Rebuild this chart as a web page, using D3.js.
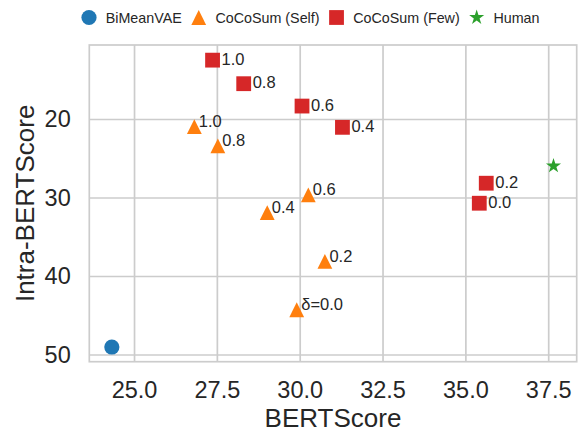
<!DOCTYPE html>
<html>
<head>
<meta charset="utf-8">
<script src="https://cdn.jsdelivr.net/npm/d3@7"></script>
<style>
  body { margin: 0; background: #fff; }
  text { font-family: "Liberation Sans", Arial, sans-serif; fill: #262626; }
</style>
</head>
<body>
<svg id="chart" width="578" height="432"></svg>
<script>
// values
const bimeanX = [24.33];
const bimeanY = [49.05];

const selfLabels = ["δ=0.0", "0.2", "0.4", "0.6", "0.8", "1.0"];
const selfX = [29.91, 30.76, 29.02, 30.26, 27.53, 26.82];
const selfY = [44.3, 38.15, 31.92, 29.67, 23.43, 20.98];

const fewLabels = ["0.0", "0.2", "0.4", "0.6", "0.8", "1.0"];
const fewX = [35.42, 35.63, 31.29, 30.07, 28.31, 27.37];
const fewY = [30.73, 28.18, 21.06, 18.35, 15.5, 12.5];

const humanX = [37.66];
const humanY = [25.98];

const xTicks = [25, 27.5, 30, 32.5, 35, 37.5];
const yTicks = [20, 30, 40, 50];

const legendNames = ["BiMeanVAE", "CoCoSum (Self)", "CoCoSum (Few)", "Human"];
const legendShapes = ["circle", "triangle", "square", "star"];
const colors = ["#1f77b4", "#ff7f0e", "#d62728", "#2ca02c"];

const svg = d3.select("#chart");
const margin = {top: 45, right: 1.3, bottom: 70.3, left: 89.3};
const width = 578 - margin.left - margin.right;
const height = 432 - margin.top - margin.bottom;
const g = svg.append("g").attr("transform", "translate(" + margin.left + "," + margin.top + ")");

const x = d3.scaleLinear().domain([23.65, 38.36]).range([0, width]);
const y = d3.scaleLinear().domain([10.57, 50.92]).range([0, height]); // inverted axis

function markerPath(shape) {
  if (shape == "circle") return d3.arc()({innerRadius: 0, outerRadius: 7.6, startAngle: 0, endAngle: 2 * Math.PI});
  if (shape == "square") return "M-7.4,-7.4H7.4V7.4H-7.4Z";
  if (shape == "triangle") return "M0,-7.4L-7.4,7.4L7.4,7.4Z";
  // five point star
  let p = [];
  for (let i = 0; i < 10; i++) {
    const r = i % 2 ? 7.9 * 0.382 : 7.9;
    const a = Math.PI * i / 5;
    p.push([r * Math.sin(a), -r * Math.cos(a)]);
  }
  return "M" + p.join("L") + "Z";
}

// grid
g.append("g")
  .attr("transform", "translate(0," + height + ")")
  .call(d3.axisBottom(x).tickValues(xTicks).tickSize(-height).tickFormat(d3.format(".1f")).tickPadding(19.5))
  .call(a => a.select(".domain").remove())
  .call(a => a.selectAll("line").attr("stroke", "#cccccc").attr("stroke-width", 1.7))
  .call(a => a.selectAll("text").attr("font-size", "23.5px").attr("fill", "#262626")
    .style("font-family", "'Liberation Sans', Arial, sans-serif"));

g.append("g")
  .call(d3.axisLeft(y).tickValues(yTicks).tickSize(-width).tickPadding(18.6))
  .call(a => a.select(".domain").remove())
  .call(a => a.selectAll("line").attr("stroke", "#cccccc").attr("stroke-width", 1.7))
  .call(a => a.selectAll("text").attr("font-size", "23.5px").attr("fill", "#262626")
    .style("font-family", "'Liberation Sans', Arial, sans-serif"));

g.append("rect")
  .attr("width", width).attr("height", height)
  .attr("fill", "none").attr("stroke", "#cccccc").attr("stroke-width", 1.7);

// points
function scatter(xs, ys, shape, color) {
  g.append("g").selectAll("path")
    .data(xs.map((v, i) => [v, ys[i]]))
    .join("path")
    .attr("transform", d => "translate(" + x(d[0]) + "," + y(d[1]) + ")")
    .attr("d", markerPath(shape))
    .attr("fill", color);
}
scatter(bimeanX, bimeanY, "circle", colors[0]);
scatter(selfX, selfY, "triangle", colors[1]);
scatter(fewX, fewY, "square", colors[2]);
scatter(humanX, humanY, "star", colors[3]);

// point labels
function labels(xs, ys, texts, dx, dy) {
  g.append("g").selectAll("text")
    .data(texts)
    .join("text")
    .attr("x", (d, i) => x(xs[i]) + dx)
    .attr("y", (d, i) => y(ys[i]) + dy)
    .attr("font-size", "16.5px")
    .text(d => d);
}
labels(selfX, selfY, selfLabels, 4.5, 0.5);
labels(fewX, fewY, fewLabels, 9, 4.8);

// axis titles
svg.append("text")
  .attr("x", margin.left + width / 2)
  .attr("y", 427)
  .attr("text-anchor", "middle")
  .attr("font-size", "26px")
  .text("BERTScore");

svg.append("text")
  .attr("transform", "translate(33.5," + (margin.top + height / 2) + ") rotate(-90)")
  .attr("text-anchor", "middle")
  .attr("font-size", "26px")
  .text("Intra-BERTScore");

// legend
let lx = 89;
const legend = svg.append("g");
legendNames.forEach((name, i) => {
  legend.append("path")
    .attr("transform", "translate(" + lx + ",17.5)")
    .attr("d", markerPath(legendShapes[i]))
    .attr("fill", colors[i]);
  const t = legend.append("text")
    .attr("x", lx + 16.7)
    .attr("y", 22.7)
    .attr("font-size", "14.3px")
    .text(name);
  lx = lx + 16.7 + t.node().getComputedTextLength() + 17;
});
</script>
</body>
</html>
